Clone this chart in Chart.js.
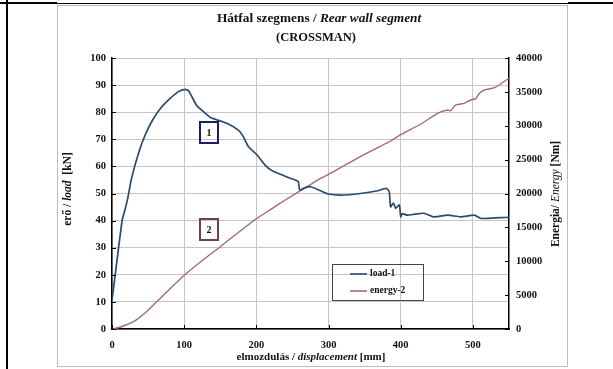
<!DOCTYPE html>
<html>
<head>
<meta charset="utf-8">
<script src="https://cdn.jsdelivr.net/npm/chart.js@4.4.1/dist/chart.umd.min.js"></script>
<style>
	html,body{margin:0;padding:0;background:#fff;}
	#wrap{width:613px;height:369px;position:relative;}
</style>
</head>
<body>
<div id="wrap"><canvas id="chart" width="613" height="369"></canvas></div>
<script>
// displacement [mm] / load [kN] for series 1
const loadDisp = [0, 14, 18, 22, 27, 36.6, 45.8, 57, 69, 80.6, 92, 101, 106, 117, 124, 136, 143, 159, 175, 182, 189, 201, 212, 222, 236, 247, 258, 260, 266, 275, 289, 300, 317, 344, 368, 380, 384, 386, 390, 393, 398, 400, 402, 409, 420, 432, 446, 465, 483, 502, 511, 539, 550];
const loadKN   = [10.5, 40, 44, 48.5, 55.5, 64.8, 71.5, 77.5, 82, 85.1, 87.6, 88.4, 87.9, 82.6, 80.8, 78.1, 77.4, 75.9, 73.4, 71, 67.3, 64.2, 60.5, 58.4, 56.8, 55.6, 54.4, 51.3, 52, 52.5, 51, 49.8, 49.4, 50, 51, 51.9, 50.7, 45.1, 46.5, 44.5, 45.8, 41.4, 42.6, 42, 42.4, 42.7, 41.4, 42, 41.4, 42, 40.8, 41.1, 41.2];

// displacement [mm] / energy [Nm] for series 2
const energyDisp = [0, 12, 29.6, 45, 59.7, 80, 99, 125, 150, 175, 201, 220, 240, 261, 289, 303, 344, 365, 386, 400, 428, 451, 465, 469, 476, 488, 497, 504, 509, 516, 530, 548, 550];
const energyNm   = [0, 300, 1080, 2300, 3790, 5900, 7820, 10100, 12150, 14250, 16340, 17650, 19040, 20410, 22240, 23000, 25430, 26600, 27750, 28700, 30260, 31840, 32320, 32200, 33060, 33310, 33800, 34000, 34790, 35280, 35620, 36860, 37000];

// tick values shown on the axes
const xTickValues = [0, 100, 200, 300, 400, 500];

const seriesNames = ['load-1', 'energy-2'];
const seriesColors = ['#2b4b6c', '#a3687f'];

const FONT = '"Liberation Serif", "Times New Roman", serif';

function toPoints(xs, ys){
	return xs.map((x, i) => ({x: x, y: ys[i]}));
}

function drawRuns(ctx, runs, x, y){
	let w = 0;
	runs.forEach(r => { ctx.font = r[1]; w += ctx.measureText(r[0]).width; });
	let cx = x - w / 2;
	runs.forEach(r => { ctx.font = r[1]; ctx.fillText(r[0], cx, y); cx += ctx.measureText(r[0]).width; });
}

const decor = {
	id: 'decor',
	beforeDraw(chart){
		const ctx = chart.ctx;
		ctx.save();
		ctx.fillStyle = '#fff';
		ctx.fillRect(0, 0, chart.width, chart.height);
		// outer black frame
		ctx.fillStyle = '#000';
		ctx.fillRect(6, 0, 2, 369);
		ctx.fillRect(0, 2, 57, 2);
		ctx.fillRect(568, 2, 45, 2);
		ctx.fillRect(57, 3, 511, 1);
		// chart box
		ctx.strokeStyle = '#bdbdbd';
		ctx.lineWidth = 1;
		ctx.strokeRect(57.5, 5.5, 510, 361);
		ctx.restore();
	},
	afterDraw(chart){
		const ctx = chart.ctx;
		const a = chart.chartArea;
		ctx.save();
		// inner tick marks
		ctx.strokeStyle = '#000';
		ctx.lineWidth = 1;
		ctx.beginPath();
		chart.scales.y.ticks.forEach(t => {
			const py = Math.round(chart.scales.y.getPixelForValue(t.value)) + 0.5;
			ctx.moveTo(a.left, py); ctx.lineTo(a.left + 4, py);
		});
		chart.scales.y1.ticks.forEach(t => {
			const py = Math.round(chart.scales.y1.getPixelForValue(t.value)) + 0.5;
			ctx.moveTo(a.right - 4, py); ctx.lineTo(a.right, py);
		});
		chart.scales.x.ticks.forEach(t => {
			const px = Math.round(chart.scales.x.getPixelForValue(t.value)) + 0.5;
			ctx.moveTo(px, a.bottom); ctx.lineTo(px, a.bottom - 4);
		});
		ctx.stroke();

		ctx.fillStyle = '#111';
		ctx.textBaseline = 'middle';
		ctx.textAlign = 'left';
		// title
		drawRuns(ctx, [['Hátfal szegmens / ', 'bold 13.3px ' + FONT], ['Rear wall segment', 'italic bold 13.3px ' + FONT]], 319, 19);
		drawRuns(ctx, [['(CROSSMAN)', 'bold 12.5px ' + FONT]], 316, 38);
		// x title
		drawRuns(ctx, [['elmozdulás / ', 'bold 11px ' + FONT], ['displacement', 'italic bold 11px ' + FONT], [' [mm]', 'bold 11px ' + FONT]], 311, 357);
		// left title
		ctx.save();
		ctx.translate(68, 189);
		ctx.rotate(-Math.PI / 2);
		drawRuns(ctx, [['erő / ', 'bold 11.5px ' + FONT], ['load', 'italic bold 11.5px ' + FONT], ['  [kN]', 'bold 11.5px ' + FONT]], 0, 0);
		ctx.restore();
		// right title
		ctx.save();
		ctx.translate(556, 194);
		ctx.rotate(-Math.PI / 2);
		drawRuns(ctx, [['Energia/ ', 'bold 11.5px ' + FONT], ['Energy', 'italic 11.5px ' + FONT], [' [Nm]', 'bold 11.5px ' + FONT]], 0, 0);
		ctx.restore();

		// number boxes
		ctx.lineWidth = 2;
		ctx.strokeStyle = '#1c1c6b';
		ctx.strokeRect(200, 122, 18, 21);
		ctx.strokeStyle = '#7b3a5b';
		ctx.strokeRect(200, 219, 18, 21);
		ctx.textAlign = 'center';
		ctx.font = 'bold 10px ' + FONT;
		ctx.fillText('1', 209, 133);
		ctx.fillText('2', 209, 230);

		// legend
		ctx.lineWidth = 1;
		ctx.strokeStyle = '#444';
		ctx.strokeRect(332.5, 264.5, 91, 36);
		ctx.textAlign = 'left';
		ctx.font = 'bold 9.5px ' + FONT;
		chart.data.datasets.forEach((ds, i) => {
			const ly = 274 + i * 17;
			ctx.strokeStyle = ds.borderColor;
			ctx.lineWidth = 1.6;
			ctx.beginPath();
			ctx.moveTo(350, ly); ctx.lineTo(367, ly);
			ctx.stroke();
			ctx.fillStyle = '#111';
			ctx.fillText(ds.label, 370, ly);
		});
		ctx.restore();
	}
};

const tickFont = {family: FONT, size: 10.5, weight: 'bold'};

new Chart(document.getElementById('chart'), {
	type: 'scatter',
	data: {
		datasets: [{
			label: seriesNames[0],
			data: toPoints(loadDisp, loadKN),
			borderColor: seriesColors[0],
			backgroundColor: seriesColors[0],
			showLine: true,
			borderWidth: 1.7,
			pointRadius: 0,
			tension: 0.2,
			yAxisID: 'y'
		}, {
			label: seriesNames[1],
			data: toPoints(energyDisp, energyNm),
			borderColor: seriesColors[1],
			backgroundColor: seriesColors[1],
			showLine: true,
			borderWidth: 1.4,
			pointRadius: 0,
			tension: 0.15,
			yAxisID: 'y1'
		}]
	},
	options: {
		responsive: false,
		animation: false,
		devicePixelRatio: 1,
		layout: {padding: {left: 57, right: 45, top: 58, bottom: 2}},
		plugins: {legend: {display: false}, tooltip: {enabled: false}, title: {display: false}},
		scales: {
			x: {
				type: 'linear', min: 0, max: 550,
				afterBuildTicks(s){ s.ticks = xTickValues.map(v => ({value: v})); },
				ticks: {color: '#111', font: tickFont, padding: 10, maxRotation: 0},
				grid: {color: '#c6c6c6', drawTicks: false},
				border: {color: '#000', width: 1.5},
				afterFit(s){ s.height = 38; }
			},
			y: {
				position: 'left', min: 0, max: 100,
				ticks: {stepSize: 10, color: '#111', font: tickFont, padding: 6},
				grid: {color: '#c6c6c6', drawTicks: false},
				border: {color: '#000', width: 1.5},
				afterFit(s){ s.width = 55; }
			},
			y1: {
				position: 'right', min: 0, max: 40000,
				ticks: {stepSize: 5000, color: '#111', font: tickFont, padding: 7, callback: v => String(v)},
				grid: {drawOnChartArea: false, drawTicks: false},
				border: {color: '#000', width: 1.5},
				afterFit(s){ s.width = 59; }
			}
		}
	},
	plugins: [decor]
});
</script>
</body>
</html>
